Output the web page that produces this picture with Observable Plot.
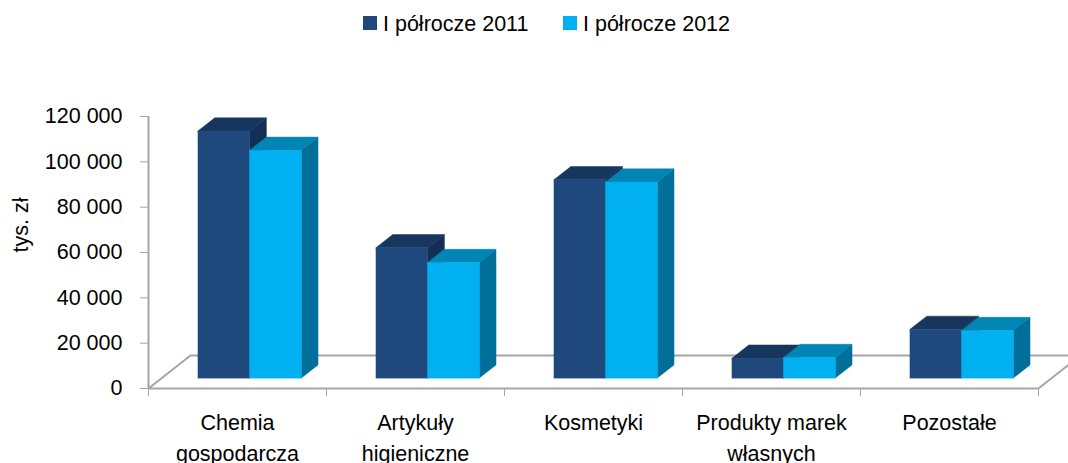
<!DOCTYPE html>
<html>
<head>
<meta charset="utf-8">
<script src="https://cdn.jsdelivr.net/npm/d3@7"></script>
<script src="https://cdn.jsdelivr.net/npm/@observablehq/plot@0.6"></script>
<style>
  html, body { margin: 0; padding: 0; background: #fff; overflow: hidden; }
  #wrap { position: relative; width: 1068px; height: 463px; font-family: "Liberation Sans", Arial, sans-serif; }
  .sw { position: absolute; width: 14px; height: 14px; top: 16px; }
  .lt { position: absolute; top: 13.5px; font-size: 21.5px; line-height: 21px; color: #000; white-space: nowrap; }
</style>
</head>
<body>
<div id="wrap">
  <div id="chart"></div>
  <div class="sw" style="left:363px;background:#1f497d"></div>
  <div class="lt" style="left:383px">I półrocze 2011</div>
  <div class="sw" style="left:563px;background:#00b0f0"></div>
  <div class="lt" style="left:583px">I półrocze 2012</div>
</div>
<script>
// ---- data ----
const categories = ["Chemia gospodarcza", "Artykuły higieniczne", "Kosmetyki", "Produkty marek własnych", "Pozostałe"];
const tickLabels = ["Chemia\ngospodarcza", "Artykuły\nhigieniczne", "Kosmetyki", "Produkty marek\nwłasnych", "Pozostałe"];
const seriesNames = ["I półrocze 2011", "I półrocze 2012"];
const values2011 = [109000, 57500, 87500, 8800, 21500];
const values2012 = [100500, 51000, 86500, 9100, 21000];
const yTicks = [0, 20000, 40000, 60000, 80000, 100000, 120000];
const yLabel = "tys. zł";

// ---- layout / style ----
const W = 1068, H = 463, mL = 148, mR = 30, mT = 116, mB = 75;
const yMax = 120000;
const nCat = categories.length;
const pxPerX = (W - mL - mR) / nCat;
const pxPerY = (H - mT - mB) / yMax;
const DXu = 42 / pxPerX;      // floor depth in x data units
const DYu = 33 / pxPerY;      // floor depth in y data units
const f0 = 0.3, f1 = 0.7;     // bar depth position
const barW = 0.29;
const front = ["#1f497d", "#00b0f0"];
const topC = ["#17365d", "#0085b5"];
const sideC = ["#142f55", "#00709a"];
const gridC = "#a6a6a6";

function faces(vals, s) {
  const fr = [], tp = [], sd = [];
  vals.forEach((v, i) => {
    const x0 = i + 0.5 + f0 * DXu - barW + s * barW;
    const x1 = x0 + barW;
    const base = f0 * DYu;
    const dd = f1 - f0;
    fr.push({cat: categories[i], series: seriesNames[s], x0, x1, base, top: base + v});
    tp.push({id: i, y: base + v, xa: x0, xb: x1});
    tp.push({id: i, y: base + v + dd * DYu, xa: x0 + dd * DXu, xb: x1 + dd * DXu});
    sd.push({id: i, x: x1, ya: base, yb: base + v});
    sd.push({id: i, x: x1 + dd * DXu, ya: base + dd * DYu, yb: base + v + dd * DYu});
  });
  return {fr, tp, sd};
}

const floor = [
  {x: 0, y: 0}, {x: nCat, y: 0}, {x: nCat + DXu, y: DYu}, {x: DXu, y: DYu}, {x: 0, y: 0}
];

const marks = [
  Plot.line(floor, {x: "x", y: "y", stroke: gridC, strokeWidth: 2}),
  Plot.ruleX([0], {y1: 0, y2: yMax, stroke: gridC, strokeWidth: 2}),
];
[values2011, values2012].forEach((vals, s) => {
  const f = faces(vals, s);
  marks.push(Plot.areaY(f.sd, {x: "x", y1: "ya", y2: "yb", z: "id", fill: sideC[s], stroke: sideC[s], strokeWidth: 0.5}));
  marks.push(Plot.areaX(f.tp, {y: "y", x1: "xa", x2: "xb", z: "id", fill: topC[s], stroke: topC[s], strokeWidth: 0.5}));
  marks.push(Plot.rect(f.fr, {x1: "x0", x2: "x1", y1: "base", y2: "top", fill: front[s], stroke: front[s], strokeWidth: 0.5}));
});
marks.push(
  Plot.axisY({ticks: yTicks, tickSize: 8, tickPadding: 18, stroke: gridC, fill: "#000",
    tickFormat: d => d3.format(",")(d).replace(/,/g, " "), label: null}),
  Plot.axisX({ticks: d3.range(nCat + 1), tickSize: 8, stroke: gridC, tickFormat: () => "", label: null}),
  Plot.text(tickLabels, {x: (d, i) => i + 0.5, y: () => 0, text: d => d, lineAnchor: "top", dy: 19,
    lineHeight: 1.45, fontSize: 21.5, fill: "#000"}),
  Plot.text([yLabel], {frameAnchor: "left", dx: -127, rotate: -90, text: d => d, fontSize: 21.5, fill: "#000"})
);

const chart = Plot.plot({
  width: W, height: H,
  marginLeft: mL, marginRight: mR, marginTop: mT, marginBottom: mB,
  x: {type: "linear", domain: [0, nCat], axis: null},
  y: {domain: [0, yMax], axis: null},
  style: {fontFamily: "'Liberation Sans', Arial, sans-serif", fontSize: "21.5px", background: "transparent", overflow: "visible"},
  marks
});
document.getElementById("chart").appendChild(chart);
</script>
</body>
</html>
